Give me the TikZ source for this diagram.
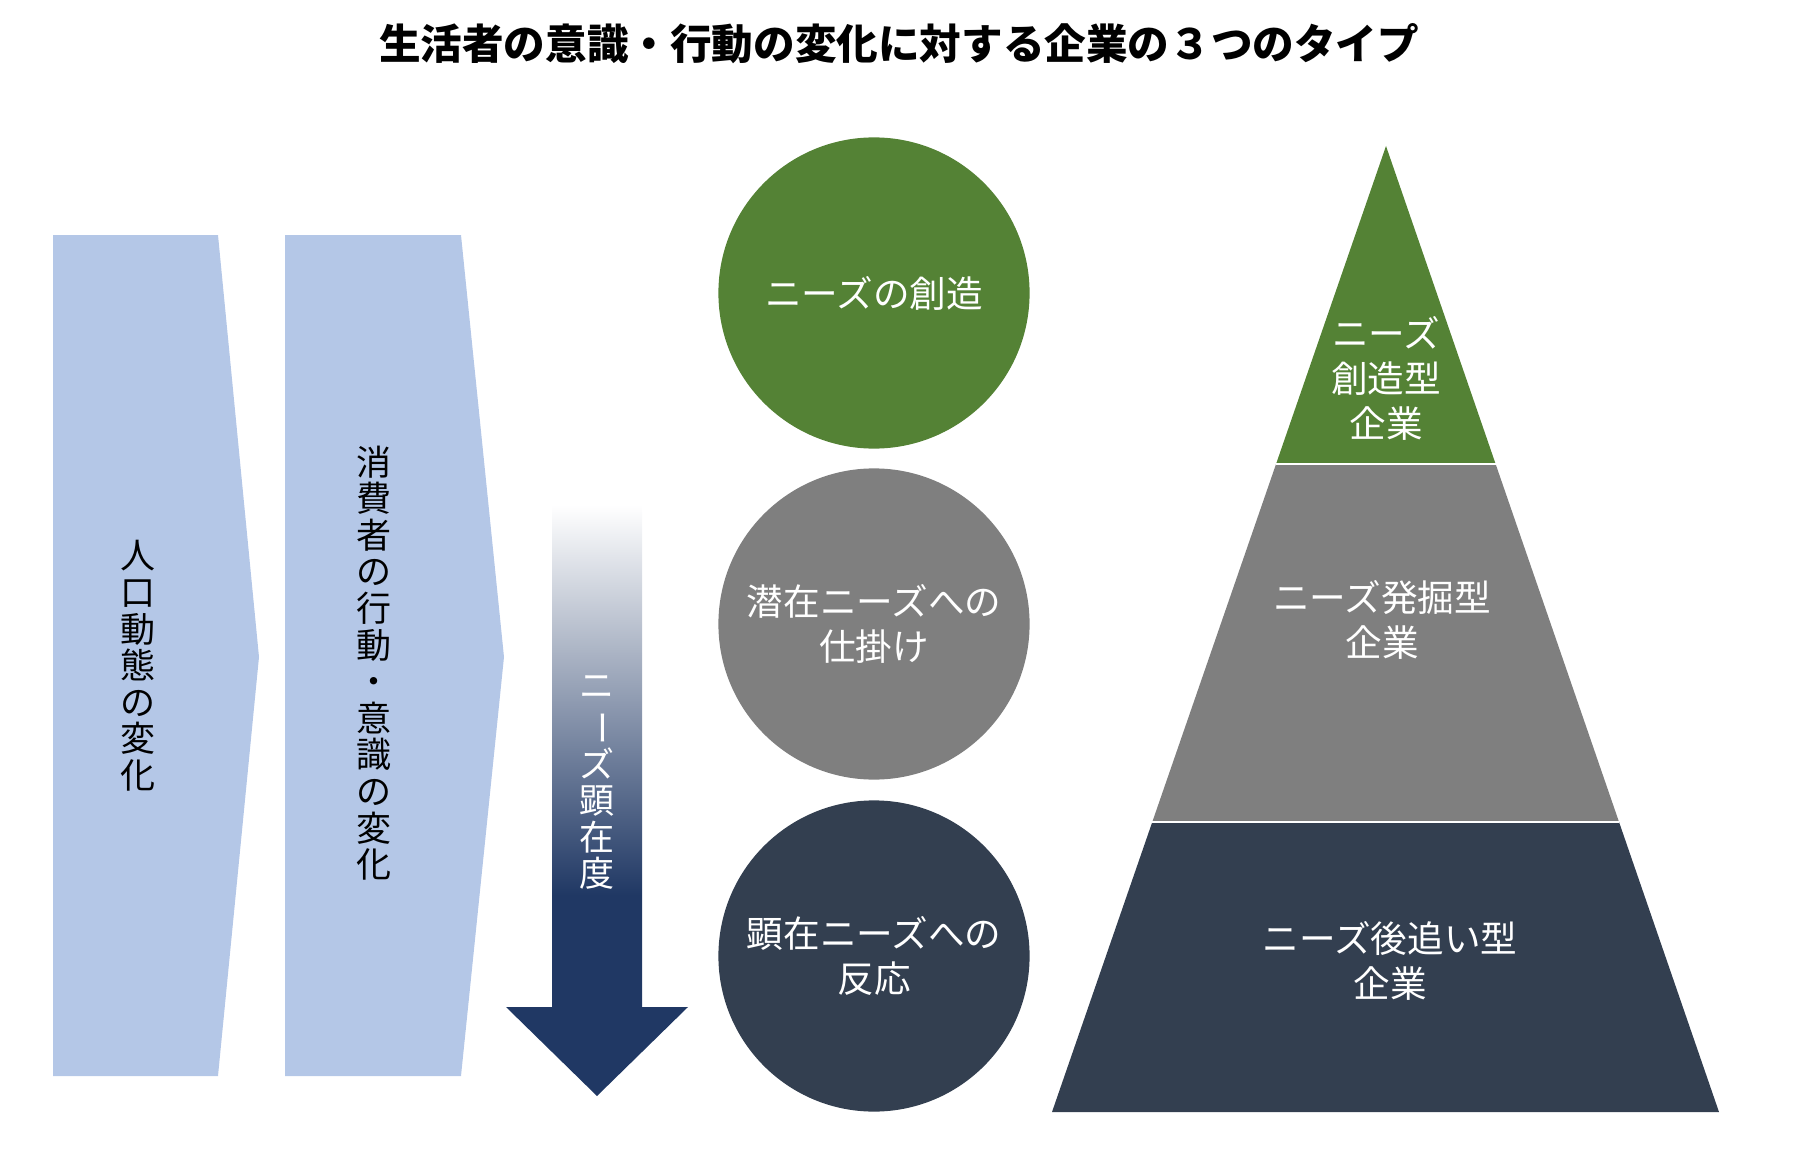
\documentclass[tikz,border=0pt]{standalone}
\usepackage{fontspec}
\setmainfont{Noto Sans CJK JP}
\usepackage{graphicx}
\usepackage{tikz}
\usetikzlibrary{calc}
\definecolor{chevblue}{HTML}{B4C7E7}
\definecolor{needgreen}{HTML}{548235}
\definecolor{needgrey}{HTML}{7F7F7F}
\definecolor{needslate}{HTML}{333F50}
\definecolor{neednavy}{HTML}{203864}
\pgfdeclareverticalshading{needfade}{100bp}{color(0bp)=(neednavy); color(42bp)=(neednavy); color(75bp)=(white); color(100bp)=(white)}
\newcommand{\choon}{\rotatebox[origin=c]{-90}{ー}}
\tikzset{
  vtext/.style={font=\fontsize{17.5pt}{18.3pt}\selectfont, align=center, inner sep=0pt},
  htext/.style={font=\fontsize{18.3pt}{22.5pt}\selectfont, align=center, inner sep=0pt, text=white},
  disc/.style={circle, minimum size=155.6pt, inner sep=0pt}
}

\begin{document}
\begin{tikzpicture}[x=0.5pt, y=-0.5pt]
  \useasboundingbox (0,0) rectangle (1800,1172);
  % title
  \node[font=\fontsize{20.8pt}{24pt}\selectfont\bfseries] (title) at (899,44) {生活者の意識・行動の変化に対する企業の３つのタイプ};
  % chevrons
  \fill[chevblue] (53,235) -- (218,235) -- (259,657) -- (218,1076) -- (53,1076) -- cycle;
  \fill[chevblue] (285,235) -- (461,235) -- (504,657) -- (461,1076) -- (285,1076) -- cycle;
  \node[vtext] (popchange) at (138,666) {人\\口\\動\\態\\の\\変\\化};
  \node[vtext] (consumer) at (374,663) {消\\費\\者\\の\\行\\動\\・\\意\\識\\の\\変\\化};
  % arrow with fade
  \shade[shading=needfade] (552,505) -- (642,505) -- (642,1007) -- (688,1007) -- (597,1096)
    -- (506,1007) -- (552,1007) -- cycle;
  \node[vtext, text=white] (overt) at (597,783) {ニ\\\choon\\ズ\\顕\\在\\度};
  % circles
  \node[disc, fill=needgreen] (create) at (874,293) {};
  \node[disc, fill=needgrey] (latent) at (874,624) {};
  \node[disc, fill=needslate] (react) at (874,956) {};
  \node[htext] at (create) {ニーズの創造};
  \node[htext] at (latent) {潜在ニーズへの\\仕掛け};
  \node[htext] at (react) {顕在ニーズへの\\反応};
  % pyramid
  \coordinate (apex) at (1386,146);
  \coordinate (bl) at (1052,1112);
  \coordinate (br) at (1719,1112);
  \coordinate (l1) at ($(apex)!0.329!(bl)$);
  \coordinate (r1) at ($(apex)!0.329!(br)$);
  \coordinate (l2) at ($(apex)!0.700!(bl)$);
  \coordinate (r2) at ($(apex)!0.700!(br)$);
  \fill[needgreen] (apex) -- (r1) -- (l1) -- cycle;
  \fill[needgrey] (l1) -- (r1) -- (r2) -- (l2) -- cycle;
  \fill[needslate] (l2) -- (r2) -- (br) -- (bl) -- cycle;
  \draw[white, line width=1.2pt] (l1) -- (r1);
  \draw[white, line width=1.2pt] (l2) -- (r2);
  \node[htext] (toptype) at (1386,378) {ニーズ\\創造型\\企業};
  \node[htext] (midtype) at (1382,620) {ニーズ発掘型\\企業};
  \node[htext] (lowtype) at (1390,961) {ニーズ後追い型\\企業};
\end{tikzpicture}
\end{document}
